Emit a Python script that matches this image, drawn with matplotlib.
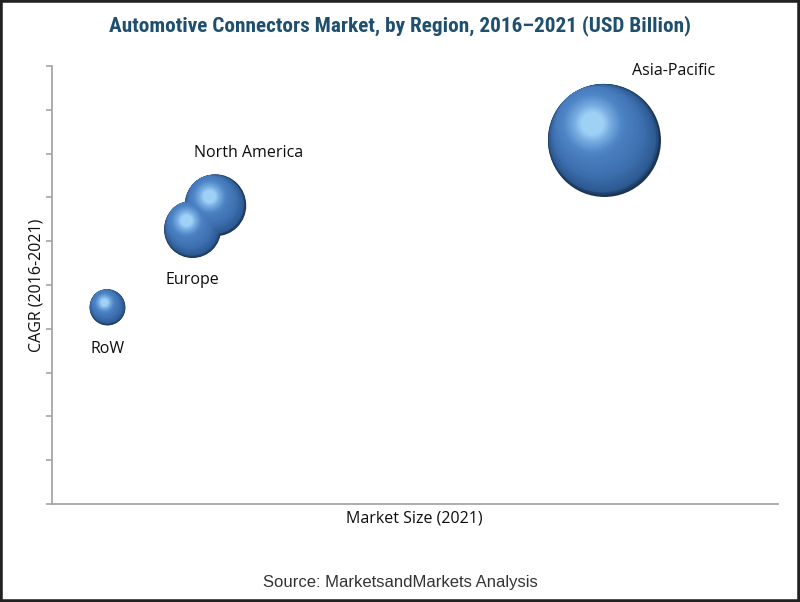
import numpy as np
import matplotlib
matplotlib.use("Agg")
import matplotlib.pyplot as plt
from matplotlib.colors import LinearSegmentedColormap
from matplotlib.transforms import offset_copy
from matplotlib.patches import Rectangle

regions = ["RoW", "Europe", "North America", "Asia-Pacific"]
market_size = [1.53, 3.87, 4.5, 15.2]   # USD billion, 2021
cagr = [4.5, 6.28, 6.83, 8.31]

label_font = ["Open Sans", "DejaVu Sans"]
label_size = 11.5

fig = plt.figure(figsize=(8, 6.02), dpi=100)
ax = fig.add_axes([0.0644, 0.1628, 0.9081, 0.7276])
ax.set_xlim(0, 20)
ax.set_ylim(0, 10)

# shaded spheres: stacked circles drifting toward the highlight
shade = LinearSegmentedColormap.from_list(
    "sphere", [(0.0, "#1a3454"), (0.06, "#2d5a92"), (0.25, "#3e70b0"),
               (0.6, "#4f86c6"), (0.85, "#7aafe3"), (1.0, "#9fd0f6")])
scale = 435.0
steps = 50
for x, y, s in zip(market_size, cagr, market_size):
    r_pt = np.sqrt(s * scale) / 2
    for k in range(steps):
        t = k / (steps - 1)
        frac = 1 - 0.8 * t
        off = min(0.8 * t, 0.36) * r_pt
        dx = -0.55 * off
        dy = 0.83 * off
        tr = offset_copy(ax.transData, fig=fig, x=dx, y=dy, units="points")
        ax.scatter([x], [y], s=(2 * r_pt * frac) ** 2, color=shade(t),
                   transform=tr, linewidths=0, zorder=3 + k * 0.01)

# labels
label_offsets = [(0, -30), (0, -37), (24, 37), (50, 50)]
for name, x, y, (ox, oy) in zip(regions, market_size, cagr, label_offsets):
    ax.annotate(name, (x, y), xytext=(ox, oy), textcoords="offset points",
                ha="center", va="center", fontsize=label_size,
                family=label_font, color="#0d0d0d")

for side in ["top", "right"]:
    ax.spines[side].set_visible(False)
for side in ["left", "bottom"]:
    ax.spines[side].set_color("#a6a6a6")
    ax.spines[side].set_linewidth(1.3)
ax.set_yticks(np.arange(0, 11, 1))
ax.set_xticks([])
ax.tick_params(axis="y", length=4, width=1.2, color="#a6a6a6",
               direction="out", labelleft=False)

ax.set_ylabel("CAGR (2016-2021)", fontsize=label_size, family=label_font,
              color="#0d0d0d", labelpad=1)
ax.set_xlabel("Market Size (2021)", fontsize=label_size, family=label_font,
              color="#0d0d0d", labelpad=5)

fig.text(0.5, 0.958, "Automotive Connectors Market, by Region, 2016\u20132021 (USD Billion)",
         ha="center", va="center", fontsize=15.3, fontweight="bold",
         family=["Roboto Condensed", "DejaVu Sans Condensed", "Roboto", "DejaVu Sans"],
         fontstretch="condensed", color="#1f4f6e")
fig.text(0.5, 0.033, "Source: MarketsandMarkets Analysis", ha="center",
         va="center", fontsize=12, family=["Liberation Sans", "DejaVu Sans"],
         color="#333333")

# dark frame around the picture
fig.patches.append(Rectangle((0, 0), 1, 1, transform=fig.transFigure,
                             fill=False, edgecolor="#222222", linewidth=4))

fig.savefig("out.png", dpi=100)
